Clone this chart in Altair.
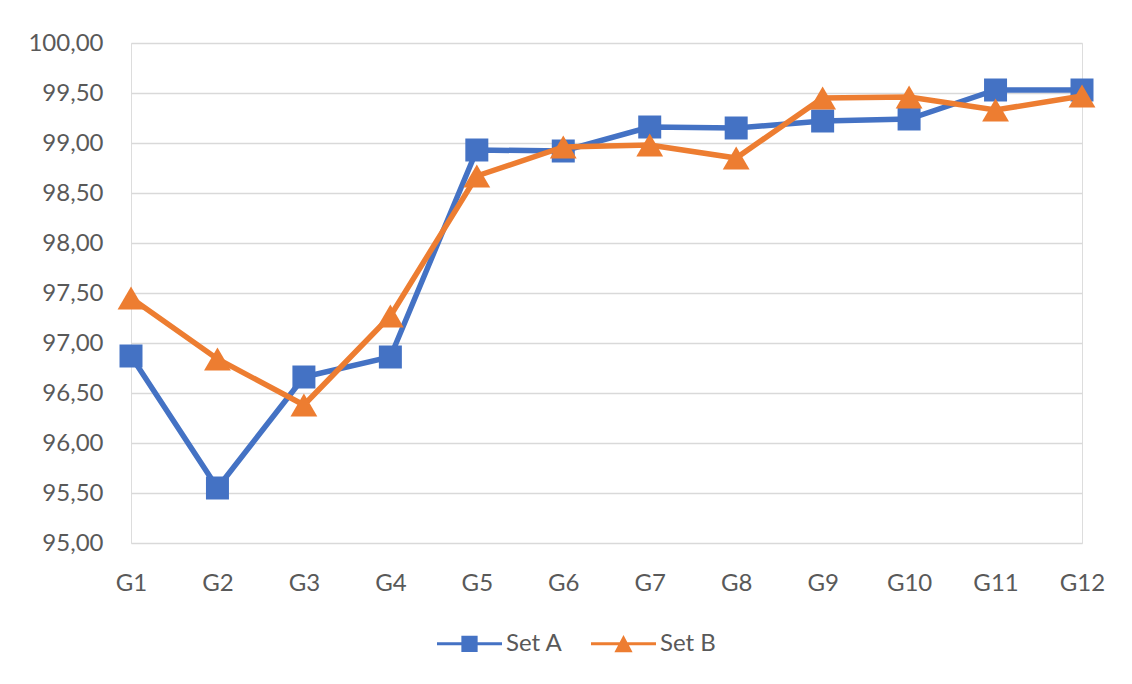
import altair as alt
import pandas as pd

groups = ["G1", "G2", "G3", "G4", "G5", "G6", "G7", "G8", "G9", "G10", "G11", "G12"]
set_a = [96.87, 95.55, 96.66, 96.86, 98.93, 98.92, 99.16, 99.15, 99.22, 99.24, 99.53, 99.53]
set_b = [97.45, 96.84, 96.38, 97.27, 98.67, 98.96, 98.98, 98.85, 99.45, 99.46, 99.33, 99.47]
series_names = ["Set A", "Set B"]
series_colors = ["#4472C4", "#ED7D31"]
series_shapes = ["square", "triangle-up"]
series_sizes = [529, 720]
y_ticks = [95.0, 95.5, 96.0, 96.5, 97.0, 97.5, 98.0, 98.5, 99.0, 99.5, 100.0]

# legend symbols: line with marker in the middle (unit box -1..1)
legend_paths = [
    "M-1,-0.045H1V0.045H-1Z M-0.25,-0.25H0.25V0.25H-0.25Z",
    "M-1,-0.045H1V0.045H-1Z M0,-0.27L0.28,0.26H-0.28Z",
]

df = pd.DataFrame({
    "group": groups * 2,
    "value": set_a + set_b,
    "series": ["Set A"] * len(groups) + ["Set B"] * len(groups),
})

FONT = "Lato"
TXT = "#595959"
FS = 24

x_enc = alt.X("group:N", sort=groups,
              scale=alt.Scale(type="point", padding=0),
              axis=alt.Axis(title=None, labelAngle=0, domain=False, ticks=False,
                            grid=False, labelPadding=28, labelFontSize=FS,
                            labelColor=TXT, labelFont=FONT))
y_enc = alt.Y("value:Q",
              scale=alt.Scale(domain=[95, 100], nice=False, zero=False),
              axis=alt.Axis(title=None, values=y_ticks, domain=False, ticks=False,
                            labelPadding=28, labelFontSize=FS, labelColor=TXT,
                            labelFont=FONT, gridColor="#d9d9d9", gridWidth=1.5,
                            labelExpr="replace(format(datum.value, '.2f'), '.', ',')"))
color_scale = alt.Scale(domain=series_names, range=series_colors)

layers = []
for name, shape, size in zip(series_names, series_shapes, series_sizes):
    base = alt.Chart(df).transform_filter(alt.datum.series == name)
    line = base.mark_line(strokeWidth=5.5).encode(
        x=x_enc, y=y_enc,
        color=alt.Color("series:N", scale=color_scale, legend=None))
    pts = base.mark_point(shape=shape, filled=True, size=size, opacity=1).encode(
        x=x_enc, y=y_enc,
        color=alt.Color("series:N", scale=color_scale, legend=None))
    layers += [line, pts]

leg = alt.Legend(title=None, orient="none", legendX=306, legendY=568,
                 direction="horizontal", symbolSize=4225, symbolStrokeWidth=0,
                 symbolOpacity=1, labelFontSize=FS, labelColor=TXT, labelFont=FONT,
                 labelOffset=4, columnPadding=28, padding=0)
legend_layer = alt.Chart(df).mark_point(filled=True, opacity=0).encode(
    x=x_enc, y=y_enc,
    color=alt.Color("series:N", scale=color_scale, legend=leg),
    shape=alt.Shape("series:N", scale=alt.Scale(domain=series_names, range=legend_paths),
                    legend=leg),
)

chart = alt.layer(legend_layer, *layers).properties(
    width=951, height=500,
    autosize=alt.AutoSizeParams(type="none"),
    padding={"left": 123, "top": 35, "right": 42, "bottom": 125},
).configure_view(stroke=None).configure(font=FONT)

chart.save("out.html", embed_options={"renderer": "svg", "actions": False})
